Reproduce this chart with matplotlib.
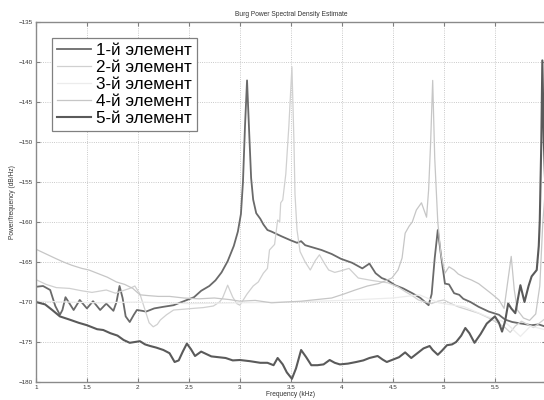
import numpy as np
import matplotlib.pyplot as plt
from matplotlib.ticker import FormatStrFormatter

# PSD curves (frequency in kHz, level in dB/Hz)
f1 = [1.00, 1.07, 1.14, 1.19, 1.235, 1.26, 1.29, 1.33, 1.37, 1.43, 1.50, 1.56, 1.63, 1.69, 1.76,
      1.79, 1.82, 1.85, 1.88, 1.92, 1.96, 1.99, 2.04, 2.08, 2.16, 2.25, 2.35, 2.45, 2.55, 2.62,
      2.70, 2.76, 2.82, 2.88, 2.94, 2.98, 3.01, 3.03, 3.05, 3.07, 3.09, 3.11, 3.13, 3.16, 3.20,
      3.23, 3.27, 3.31, 3.41, 3.50, 3.56, 3.60, 3.64, 3.72, 3.80, 3.90, 3.99, 4.10, 4.20, 4.27,
      4.33, 4.39, 4.45, 4.52, 4.60, 4.69, 4.77, 4.85, 4.88, 4.91, 4.94, 4.97, 5.01, 5.05, 5.10,
      5.15, 5.19, 5.26, 5.34, 5.44, 5.54, 5.60, 5.67, 5.76, 5.86, 5.93, 6.00]
p1 = [-168.1, -168.0, -168.5, -170.5, -171.6, -171.0, -169.4, -170.2, -171.0, -169.75, -170.8,
      -169.9, -171.0, -170.2, -171.1, -170.0, -168.0, -169.5, -171.8, -172.5, -171.6, -171.0,
      -171.1, -171.2, -170.8, -170.6, -170.4, -169.9, -169.4, -168.6, -168.0, -167.3, -166.3,
      -164.9, -163.0, -161.2, -159.0, -155.0, -148.0, -142.3, -148.5, -154.5, -157.2, -158.9,
      -159.6, -160.3, -161.0, -161.2, -161.8, -162.3, -162.6, -162.4, -162.9, -163.2, -163.5,
      -164.0, -164.6, -165.1, -165.8, -165.2, -166.4, -167.0, -167.3, -167.9, -168.3, -168.9,
      -169.5, -170.4, -169.0, -164.5, -161.0, -164.0, -167.7, -167.8, -168.9, -169.1, -169.6,
      -170.0, -170.6, -171.2, -171.6, -172.2, -172.5, -172.7, -172.9, -172.8, -173.1]

f2 = [1.00, 1.10, 1.20, 1.33, 1.45, 1.55, 1.69, 1.78, 1.85, 1.92, 1.97, 2.02, 2.07, 2.11, 2.15,
      2.19, 2.22, 2.28, 2.35, 2.45, 2.54, 2.64, 2.74, 2.80, 2.83, 2.88, 2.93, 2.97, 3.00, 3.04,
      3.07, 3.13, 3.18, 3.23, 3.27, 3.29, 3.34, 3.37, 3.39, 3.40, 3.42, 3.45, 3.48, 3.51, 3.53,
      3.54, 3.56, 3.59, 3.64, 3.69, 3.74, 3.78, 3.83, 3.87, 3.93, 3.99, 4.07, 4.16, 4.29, 4.45,
      4.55, 4.62, 4.70, 4.75, 4.82, 4.88, 4.94, 5.00, 5.07, 5.14, 5.24, 5.34, 5.44, 5.54, 5.60,
      5.65, 5.70, 5.76, 5.82, 5.88, 5.94, 6.00]
p2 = [-167.2, -167.8, -168.2, -168.3, -168.6, -168.8, -168.5, -168.9, -168.6, -168.3, -168.0,
      -169.0, -171.0, -172.6, -173.1, -172.8, -172.25, -171.6, -171.0, -170.9, -170.8, -170.7,
      -170.5, -170.0, -169.5, -167.9, -169.4, -170.2, -170.4, -169.6, -169.0, -168.0, -167.5,
      -166.4, -165.8, -163.5, -162.8, -159.75, -160.0, -157.6, -157.25, -154.0, -148.0, -140.6,
      -150.0, -156.5, -161.0, -163.7, -165.0, -166.0, -164.8, -164.1, -165.2, -166.0, -166.3,
      -166.1, -165.8, -167.0, -167.3, -167.6, -168.1, -168.7, -169.3, -169.75, -170.0, -170.2,
      -169.9, -169.75, -170.2, -170.6, -171.0, -171.4, -172.0, -172.7, -173.2, -173.8, -173.0,
      -172.4, -172.8, -173.2, -172.6, -172.0]

f3 = [1.00, 1.30, 1.60, 2.00, 2.50, 3.00, 3.50, 4.00, 4.50, 4.76, 4.95, 5.20, 5.42, 5.60, 5.75,
      5.85, 6.00]
p3 = [-169.9, -170.0, -170.1, -170.0, -170.2, -170.1, -170.0, -169.8, -169.5, -169.1, -170.1,
      -170.6, -171.8, -172.5, -174.3, -173.0, -173.5]

f4 = [1.00, 1.10, 1.20, 1.27, 1.35, 1.45, 1.52, 1.60, 1.70, 1.79, 1.87, 1.95, 2.02, 2.10, 2.20,
      2.31, 2.45, 2.60, 2.75, 2.90, 3.00, 3.15, 3.31, 3.45, 3.60, 3.75, 3.90, 4.02, 4.13, 4.25,
      4.36, 4.49, 4.55, 4.59, 4.62, 4.66, 4.69, 4.73, 4.78, 4.83, 4.85, 4.87, 4.89, 4.91, 4.94,
      4.97, 5.01, 5.05, 5.10, 5.14, 5.20, 5.27, 5.34, 5.40, 5.47, 5.54, 5.59, 5.62, 5.66, 5.69,
      5.72, 5.78, 5.84, 5.90, 5.94, 5.97, 6.00]
p4 = [-163.4, -164.0, -164.6, -165.0, -165.4, -165.8, -166.0, -166.4, -166.9, -167.5, -167.8,
      -168.3, -169.1, -169.2, -169.3, -169.3, -169.5, -169.6, -169.5, -169.7, -169.9, -169.8,
      -170.1, -170.0, -169.9, -169.7, -169.5, -169.0, -168.5, -168.0, -167.7, -167.0, -166.0,
      -164.5, -161.4, -160.5, -160.0, -158.5, -157.6, -159.4, -156.0, -150.0, -142.3, -152.0,
      -160.0, -164.0, -166.4, -165.6, -166.0, -166.5, -166.9, -167.25, -167.7, -168.3, -169.0,
      -169.75, -170.8, -168.0, -164.3, -168.5, -171.0, -172.0, -172.3, -171.5, -168.0, -160.0,
      -155.0]

f5 = [1.00, 1.09, 1.16, 1.235, 1.33, 1.42, 1.50, 1.60, 1.66, 1.73, 1.80, 1.86, 1.92, 1.97, 2.02,
      2.07, 2.12, 2.18, 2.25, 2.31, 2.36, 2.40, 2.44, 2.48, 2.52, 2.56, 2.62, 2.67, 2.72, 2.79,
      2.86, 2.93, 3.00, 3.10, 3.20, 3.27, 3.33, 3.37, 3.42, 3.46, 3.51, 3.55, 3.60, 3.65, 3.70,
      3.76, 3.82, 3.88, 3.93, 3.98, 4.06, 4.14, 4.21, 4.27, 4.35, 4.40, 4.44, 4.50, 4.56, 4.62,
      4.68, 4.74, 4.80, 4.86, 4.89, 4.94, 4.98, 5.03, 5.08, 5.12, 5.17, 5.21, 5.25, 5.30, 5.36,
      5.42, 5.50, 5.54, 5.57, 5.60, 5.63, 5.66, 5.70, 5.75, 5.79, 5.83, 5.86, 5.91, 5.93, 5.94,
      5.955, 5.965, 5.98, 6.00]
p5 = [-170.0, -170.3, -171.0, -171.8, -172.2, -172.6, -172.9, -173.4, -173.5, -173.9, -174.2,
      -174.75, -175.1, -175.0, -174.9, -175.3, -175.5, -175.7, -176.0, -176.4, -177.5, -177.3,
      -176.2, -175.2, -175.9, -176.75, -176.2, -176.5, -176.8, -176.9, -177.0, -177.3, -177.25,
      -177.4, -177.6, -177.6, -177.9, -177.0, -177.8, -178.8, -179.6, -178.3, -176.0, -176.9,
      -177.9, -177.9, -177.8, -177.25, -177.6, -177.8, -177.7, -177.5, -177.3, -177.0, -176.75,
      -177.2, -177.5, -177.2, -176.9, -176.3, -177.0, -176.4, -175.8, -175.5, -176.0, -176.6,
      -176.1, -175.4, -175.3, -175.0, -174.2, -173.25, -173.9, -175.1, -174.0, -172.7, -171.8,
      -172.6, -173.7, -172.4, -170.2, -170.8, -171.4, -167.9, -170.0, -168.0, -166.8, -166.0,
      -163.0, -159.75, -150.0, -139.8, -150.0, -158.0]

labels = ['1-й элемент', '2-й элемент', '3-й элемент', '4-й элемент', '5-й элемент']
xticks = [1, 1.5, 2, 2.5, 3, 3.5, 4, 4.5, 5, 5.5]
yticks = [-180, -175, -170, -165, -160, -155, -150, -145, -140, -135]

plt.rcParams['font.family'] = ['Liberation Sans', 'DejaVu Sans']

fig = plt.figure(figsize=(5.44, 4.0), dpi=100)
ax = fig.add_axes([0.066, 0.045, 0.9375, 0.9])

ax.plot(f1, p1, color='#6a6a6a', lw=1.3, label=labels[0])
ax.plot(f2, p2, color='#d0d0d0', lw=0.9, label=labels[1])
ax.plot(f3, p3, color='#ececec', lw=0.9, label=labels[2])
ax.plot(f4, p4, color='#c6c6c6', lw=0.9, label=labels[3])
ax.plot(f5, p5, color='#5a5a5a', lw=1.5, label=labels[4])

ax.set_xlim(1, 6)
ax.set_ylim(-180, -135)
ax.set_xticks(xticks)
ax.set_yticks(yticks)
ax.xaxis.set_major_formatter(FormatStrFormatter('%g'))
ax.tick_params(direction='in', length=3, width=0.8, color='#808080', labelsize=4.5,
               labelcolor='#333333', top=True, right=True, pad=2)
ax.grid(True, linestyle=':', color='#b8b8b8', lw=0.6)
for s in ax.spines.values():
    s.set_color('#8a8a8a')
    s.set_linewidth(1.0)

ax.set_title('Burg Power Spectral Density Estimate', fontsize=4.8, color='#333333', pad=4)
ax.set_xlabel('Frequency (kHz)', fontsize=4.8, color='#333333', labelpad=1)
ax.set_ylabel('Power/frequency (dB/Hz)', fontsize=4.8, color='#333333', labelpad=2)

leg = ax.legend(loc='upper left', bbox_to_anchor=(0.031, 0.956), borderaxespad=0,
                fontsize=12.3, labelspacing=0.12, handlelength=2.0, handletextpad=0.3,
                borderpad=0.3, fancybox=False, framealpha=1)
leg.get_frame().set_edgecolor('#808080')
leg.get_frame().set_linewidth(0.9)

fig.savefig('out.png', dpi=100)
